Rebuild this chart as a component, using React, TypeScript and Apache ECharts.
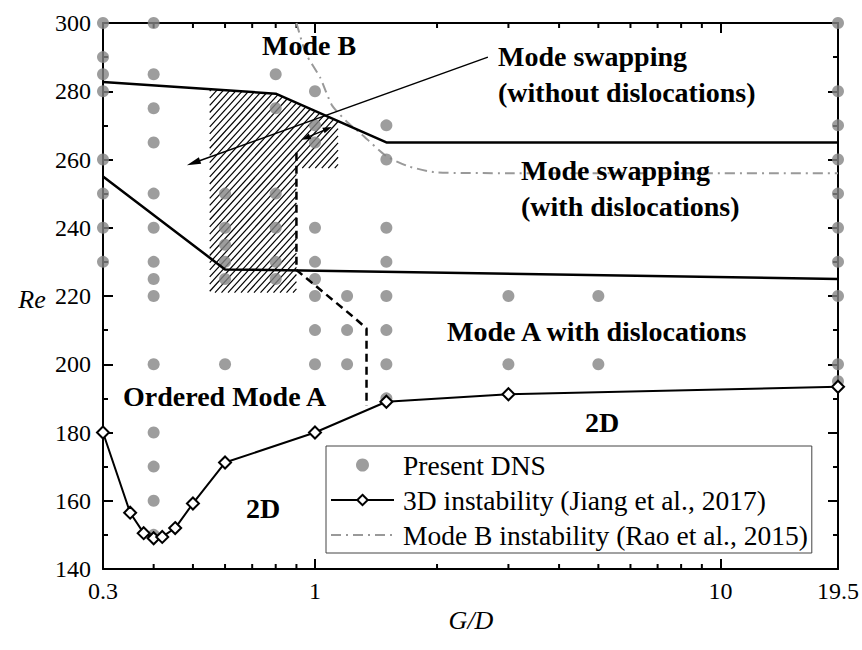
import React, { useEffect, useRef } from "react";
import * as echarts from "echarts";

const FONT = "Liberation Serif, Times New Roman, Times, serif";

// Present DNS runs: G/D columns and the Re values simulated at each one
const dnsGD = [0.3, 0.4, 0.6, 0.8, 1, 1.2, 1.5, 3, 5, 19.5];
const dnsRe: number[][] = [
  [300, 290, 285, 280, 260, 250, 240, 230],
  [300, 285, 275, 265, 250, 240, 230, 225, 220, 200, 180, 170, 160, 150],
  [250, 240, 235, 230, 225, 200],
  [285, 275, 250, 240, 230, 225],
  [280, 270, 265, 240, 230, 225, 220, 210, 200],
  [220, 210, 200],
  [270, 260, 240, 230, 220, 210, 200, 190],
  [220, 200],
  [220, 200],
  [300, 280, 270, 260, 250, 240, 230, 220, 200, 195],
];

// 3D instability threshold (Jiang et al., 2017)
const jiangGD = [0.3, 0.35, 0.378, 0.4, 0.42, 0.452, 0.5, 0.6, 1, 1.5, 3, 19.5];
const jiangRe = [180, 156.5, 150.5, 149, 149.4, 152, 159.2, 171.2, 180, 189, 191.2, 193.4];

// Mode B instability threshold (Rao et al., 2015)
const raoGD = [0.9, 0.95, 1.03, 1.1, 1.2, 1.3, 1.5, 1.7, 2, 3, 19.5];
const raoRe = [300, 291, 284, 276, 271, 267.5, 261, 258, 256.2, 256, 256];

// Regime boundaries
const modeBBoundaryGD = [0.3, 0.8, 1.5, 19.5];
const modeBBoundaryRe = [282.7, 279.3, 265, 265];
const swapBoundaryGD = [0.3, 0.6, 19.5];
const swapBoundaryRe = [255, 227.8, 225];
const orderedBoundaryGD = [0.9, 0.9, 1.24, 1.34, 1.34];
const orderedBoundaryRe = [262, 227.6, 214, 210.5, 187.8];

// Hatched mode-swapping region (polygon corners)
const hatchGD = [0.55, 0.8, 1.14, 1.14, 0.9, 0.9, 0.55];
const hatchRe = [280.6, 279.3, 271.2, 257.5, 257.5, 221, 221];

// Annotation arrows: tail -> head
const pointerGD = [2.67, 0.483];
const pointerRe = [290, 258.3];
const spanGD = [0.927, 1.1];
const spanRe = [265.8, 269.5];

// Axis ranges and ticks
const gdRange = [0.3, 19.5];
const gdMinorTicks = [0.4, 0.5, 0.6, 0.7, 0.8, 0.9, 2, 3, 4, 5, 6, 7, 8, 9];
const reRange = [140, 300];
const reStep = 20;

const legendNames = [
  "Present DNS",
  "3D instability (Jiang et al., 2017)",
  "Mode B instability (Rao et al., 2015)",
];

// Regime labels: [text, x, y, align]
const regionLabels: [string, number, number, string][] = [
  ["Mode B", 309, 45.5, "center"],
  ["Mode swapping", 498, 56, "left"],
  ["(without dislocations)", 498, 92.5, "left"],
  ["Mode swapping", 521, 170, "left"],
  ["(with dislocations)", 521, 206.5, "left"],
  ["Mode A with dislocations", 447, 331, "left"],
  ["Ordered Mode A", 123, 396.5, "left"],
  ["2D", 263, 508, "center"],
  ["2D", 602, 422, "center"],
];

function hatchSegments(pts: number[][], spacing: number, k: number) {
  const f = (p: number[]) => k * p[0] + p[1];
  const vals = pts.map(f);
  const bMin = Math.min(...vals);
  const bMax = Math.max(...vals);
  const step = spacing * k;
  const segs: number[][][] = [];
  for (let b = Math.ceil(bMin / step) * step; b <= bMax; b += step) {
    const hits: number[][] = [];
    for (let i = 0; i < pts.length; i++) {
      const a = pts[i];
      const c = pts[(i + 1) % pts.length];
      const fa = f(a) - b;
      const fc = f(c) - b;
      if (fa < 0 !== fc < 0) {
        const t = fa / (fa - fc);
        hits.push([a[0] + t * (c[0] - a[0]), a[1] + t * (c[1] - a[1])]);
      }
    }
    hits.sort((p, q) => p[0] - q[0]);
    for (let j = 0; j + 1 < hits.length; j += 2) segs.push([hits[j], hits[j + 1]]);
  }
  return segs;
}

const pairs = (xs: number[], ys: number[]) => xs.map((x, i) => [x, ys[i]]);

const black = "#000";
const axisLine = { show: true, onZero: false, lineStyle: { color: black, width: 2 } };
const majorTick = { show: true, inside: true, length: 10, lineStyle: { color: black, width: 2 } };
const tickLabel = { fontFamily: FONT, fontSize: 24, color: black };

function buildOption(): any {
  const xBase = {
    type: "log",
    logBase: 10,
    min: gdRange[0],
    max: gdRange[1],
    axisLine,
    axisTick: majorTick,
    splitLine: { show: false },
    minorSplitLine: { show: false },
  };
  const yBase = {
    type: "value",
    min: reRange[0],
    max: reRange[1],
    interval: reStep,
    axisLine,
    axisTick: majorTick,
    minorTick: { show: true, splitNumber: 2, length: 5, lineStyle: { color: black, width: 2 } },
    splitLine: { show: false },
    minorSplitLine: { show: false },
  };
  return {
    animation: false,
    backgroundColor: "#fff",
    textStyle: { fontFamily: FONT },
    grid: { left: 103, right: 23, top: 23, bottom: 81, containLabel: false },
    xAxis: [
      {
        ...xBase,
        position: "bottom",
        axisLabel: {
          ...tickLabel,
          margin: 10,
          showMinLabel: true,
          showMaxLabel: true,
          formatter: (v: number) => String(+Number(v).toPrecision(3)),
        },
      },
      { ...xBase, position: "top", axisLabel: { show: false } },
    ],
    yAxis: [
      { ...yBase, position: "left", axisLabel: { ...tickLabel, margin: 12 } },
      { ...yBase, position: "right", axisLabel: { show: false } },
    ],
    legend: {
      data: legendNames,
      orient: "vertical",
      left: 326,
      top: 446,
      itemWidth: 63,
      itemHeight: 13,
      itemGap: 7,
      padding: [5, 4, 4, 4],
      borderColor: "#444",
      borderWidth: 1,
      backgroundColor: "#fff",
      selectedMode: false,
      textStyle: { fontFamily: FONT, fontSize: 27.5, color: black, padding: [0, 0, 0, 4] },
      z: 20,
    },
    series: [
      {
        type: "custom",
        name: "hatch",
        z: 1,
        silent: true,
        data: [[hatchGD[0], hatchRe[0]]],
        renderItem: (_params: any, api: any) => {
          const pts = hatchGD.map((g, i) => api.coord([g, hatchRe[i]]));
          const segs = hatchSegments(pts, 6.5, 1.1);
          return {
            type: "group",
            children: segs.map(([a, b]) => ({
              type: "line",
              shape: { x1: a[0], y1: a[1], x2: b[0], y2: b[1] },
              style: { stroke: black, lineWidth: 1.2 },
            })),
          };
        },
      },
      {
        type: "custom",
        name: "minor x ticks",
        z: 2,
        silent: true,
        data: gdMinorTicks.map((v) => [v, reRange[0]]),
        renderItem: (params: any, api: any) => {
          const x = api.coord([api.value(0), reRange[0]])[0];
          const cs = params.coordSys;
          const yb = cs.y + cs.height;
          const yt = cs.y;
          return {
            type: "group",
            children: [
              { type: "line", shape: { x1: x, y1: yb, x2: x, y2: yb - 5 }, style: { stroke: black, lineWidth: 2 } },
              { type: "line", shape: { x1: x, y1: yt, x2: x, y2: yt + 5 }, style: { stroke: black, lineWidth: 2 } },
            ],
          };
        },
      },
      {
        type: "line",
        name: legendNames[2],
        z: 3,
        data: pairs(raoGD, raoRe),
        symbol: "none",
        showSymbol: false,
        smooth: 0.2,
        itemStyle: { color: "#999", opacity: 0 },
        lineStyle: { color: "#999", width: 2, type: [10, 5, 2, 5] },
      },
      {
        type: "scatter",
        name: legendNames[0],
        z: 4,
        data: dnsGD.flatMap((g, i) => dnsRe[i].map((r) => [g, r])),
        symbol: "circle",
        symbolSize: 12,
        itemStyle: { color: "#858585" },
      },
      {
        type: "line",
        name: "Mode B boundary",
        z: 5,
        data: pairs(modeBBoundaryGD, modeBBoundaryRe),
        symbol: "none",
        lineStyle: { color: black, width: 2.5 },
      },
      {
        type: "line",
        name: "Mode swapping boundary",
        z: 5,
        data: pairs(swapBoundaryGD, swapBoundaryRe),
        symbol: "none",
        lineStyle: { color: black, width: 2.5 },
      },
      {
        type: "line",
        name: "Ordered Mode A boundary",
        z: 5,
        data: pairs(orderedBoundaryGD, orderedBoundaryRe),
        symbol: "none",
        lineStyle: { color: black, width: 2.5, type: [8, 5] },
      },
      {
        type: "line",
        name: legendNames[1],
        z: 6,
        data: pairs(jiangGD, jiangRe),
        symbol: "diamond",
        symbolSize: 12,
        itemStyle: { color: "#fff", borderColor: black, borderWidth: 2 },
        lineStyle: { color: black, width: 2 },
      },
      {
        type: "custom",
        name: "arrows",
        z: 7,
        silent: true,
        data: [
          [pointerGD[0], pointerRe[0], pointerGD[1], pointerRe[1], 1],
          [spanGD[0], spanRe[0], spanGD[1], spanRe[1], 2],
        ],
        renderItem: (_params: any, api: any) => {
          const p1 = api.coord([api.value(0), api.value(1)]);
          const p2 = api.coord([api.value(2), api.value(3)]);
          const both = api.value(4) === 2;
          const L = both ? 9 : 14;
          const W = both ? 3 : 3.5;
          const dx = p2[0] - p1[0];
          const dy = p2[1] - p1[1];
          const len = Math.hypot(dx, dy);
          const ux = dx / len;
          const uy = dy / len;
          const nx = -uy;
          const ny = ux;
          const head = (tip: number[], dir: number) => {
            const bx = tip[0] - dir * ux * L;
            const by = tip[1] - dir * uy * L;
            return {
              type: "polygon",
              shape: { points: [tip, [bx + nx * W, by + ny * W], [bx - nx * W, by - ny * W]] },
              style: { fill: black },
            };
          };
          const s = both ? [p1[0] + ux * L * 0.8, p1[1] + uy * L * 0.8] : p1;
          const e = [p2[0] - ux * L * 0.8, p2[1] - uy * L * 0.8];
          const children: any[] = [
            { type: "line", shape: { x1: s[0], y1: s[1], x2: e[0], y2: e[1] }, style: { stroke: black, lineWidth: 1.5 } },
            head(p2, 1),
          ];
          if (both) children.push(head(p1, -1));
          return { type: "group", children };
        },
      },
    ],
    graphic: [
      ...regionLabels.map(([text, x, y, align]) => ({
        type: "text",
        x,
        y,
        z: 30,
        silent: true,
        style: {
          text,
          fontFamily: FONT,
          fontSize: 28,
          fontWeight: "bold",
          fill: black,
          align,
          verticalAlign: "middle",
        },
      })),
      {
        type: "text",
        x: 32,
        y: 299,
        z: 30,
        style: { text: "Re", fontFamily: FONT, fontSize: 26, fontStyle: "italic", fill: black, align: "center", verticalAlign: "middle" },
      },
      {
        type: "text",
        x: 471,
        y: 620,
        z: 30,
        style: { text: "G/D", fontFamily: FONT, fontSize: 26, fontStyle: "italic", fill: black, align: "center", verticalAlign: "middle" },
      },
    ],
  };
}

export default function App() {
  const ref = useRef<HTMLDivElement>(null);
  useEffect(() => {
    if (!ref.current) return;
    const chart = echarts.init(ref.current, null, { renderer: "svg" });
    chart.setOption(buildOption());
    return () => chart.dispose();
  }, []);
  return (
    <div
      ref={ref}
      style={{ position: "absolute", left: 0, top: 0, width: 862, height: 650, background: "#fff" }}
    />
  );
}
